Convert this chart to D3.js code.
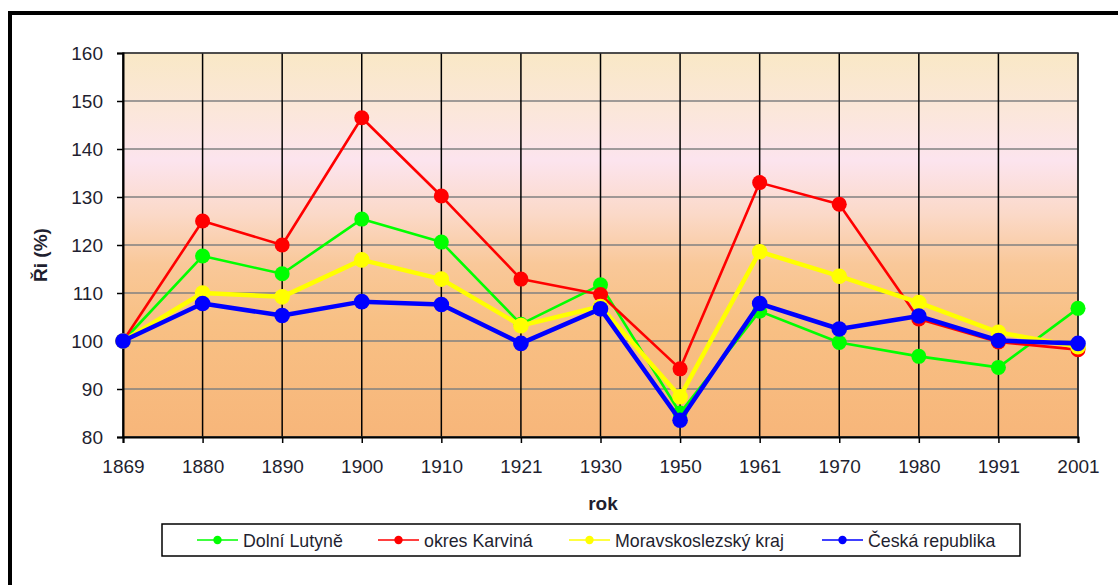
<!DOCTYPE html>
<html>
<head>
<meta charset="utf-8">
<script src="https://cdn.jsdelivr.net/npm/d3@7"></script>
<style>
  html, body { margin: 0; padding: 0; background: #fff; }
  svg { display: block; font-family: "Liberation Sans", Arial, sans-serif; }
</style>
</head>
<body>
<svg id="chart" width="1118" height="585"></svg>
<script>
const years = ["1869","1880","1890","1900","1910","1921","1930","1950","1961","1970","1980","1991","2001"];
const yTicks = [80, 90, 100, 110, 120, 130, 140, 150, 160];
const seriesNames = ["Dolní Lutyně", "okres Karviná", "Moravskoslezský kraj", "Česká republika"];
const dolniLutyne = [100, 117.7, 114, 125.4, 120.6, 103.5, 111.7, 85, 106.2, 99.7, 96.8, 94.5, 106.8];
const okresKarvina = [100, 125, 120, 146.5, 130.2, 112.9, 109.7, 94.2, 133, 128.5, 104.6, 99.8, 98.2];
const moravskoslezsky = [100, 110, 109.2, 116.9, 112.9, 103.2, 107.2, 88.4, 118.6, 113.5, 108, 101.8, 98.8];
const ceskaRepublika = [100, 107.8, 105.3, 108.2, 107.6, 99.5, 106.7, 83.5, 107.8, 102.5, 105.2, 100.1, 99.5];
const seriesColors = ["#00ff00", "#ff0000", "#ffff00", "#0000ff"];

const svg = d3.select("#chart");
const plot = { left: 123, top: 53, right: 1078, bottom: 437 };

// outer frame (cut off at right / bottom)
svg.append("rect").attr("x", 10).attr("y", 13).attr("width", 1200).attr("height", 700)
  .attr("fill", "none").attr("stroke", "#000").attr("stroke-width", 4);

const x = d3.scalePoint().domain(years).range([plot.left, plot.right]).padding(0);
const y = d3.scaleLinear().domain([80, 160]).range([plot.bottom, plot.top]);

// background gradient
const defs = svg.append("defs");
const grad = defs.append("linearGradient").attr("id", "bg").attr("x1", 0).attr("y1", 0).attr("x2", 0).attr("y2", 1);
[[0, "#f9e8c6"], [0.14, "#fbe7d8"], [0.28, "#fce4ee"], [0.42, "#fbd9c8"], [0.55, "#f9c899"], [0.7, "#f8c084"], [1, "#f7b67a"]]
  .forEach(([o, c]) => grad.append("stop").attr("offset", o).attr("stop-color", c));
svg.append("rect").attr("x", plot.left).attr("y", plot.top)
  .attr("width", plot.right - plot.left).attr("height", plot.bottom - plot.top)
  .attr("fill", "url(#bg)");

// horizontal grid
svg.append("g").selectAll("line").data(yTicks).join("line")
  .attr("x1", plot.left).attr("x2", plot.right)
  .attr("y1", d => y(d)).attr("y2", d => y(d))
  .attr("stroke", "#808080").attr("stroke-width", 1.6);

// vertical grid
svg.append("g").selectAll("line").data(years).join("line")
  .attr("x1", d => x(d)).attr("x2", d => x(d))
  .attr("y1", plot.top).attr("y2", plot.bottom)
  .attr("stroke", "#000").attr("stroke-width", 1.5);

// plot border
svg.append("rect").attr("x", plot.left).attr("y", plot.top)
  .attr("width", plot.right - plot.left).attr("height", plot.bottom - plot.top)
  .attr("fill", "none").attr("stroke", "#333").attr("stroke-width", 1.5);

// axes
const yAxis = svg.append("g").attr("transform", `translate(${plot.left},0)`)
  .call(d3.axisLeft(y).tickValues(yTicks).tickSize(6).tickPadding(14).tickFormat(d3.format("d")));
const xAxis = svg.append("g").attr("transform", `translate(0,${plot.bottom})`)
  .call(d3.axisBottom(x).tickSize(6).tickPadding(17));
[yAxis, xAxis].forEach(a => {
  a.select(".domain").attr("stroke", "#000").attr("stroke-width", 2);
  a.selectAll(".tick line").attr("stroke", "#000").attr("stroke-width", 1.5);
  a.selectAll(".tick text").attr("font-size", 19).attr("fill", "#1f1f30")
    .attr("font-family", "'Liberation Sans', Arial, sans-serif");
});
yAxis.selectAll(".tick text").attr("dy", "0.36em");

// axis titles
svg.append("text").attr("transform", "translate(47,255) rotate(-90)")
  .attr("text-anchor", "middle").attr("font-size", 19).attr("font-weight", "bold").attr("fill", "#1f1f30")
  .text("Ři (%)");
svg.append("text").attr("x", 603).attr("y", 510)
  .attr("text-anchor", "middle").attr("font-size", 19).attr("font-weight", "bold").attr("fill", "#1f1f30")
  .text("rok");

// series
const allSeries = [dolniLutyne, okresKarvina, moravskoslezsky, ceskaRepublika];
const widths = [2.6, 2.6, 4.5, 4.5];
const radii = [7.5, 7.5, 7.8, 7.8];
const line = d3.line().x((d, i) => x(years[i])).y(d => y(d));
allSeries.forEach((vals, si) => {
  const g = svg.append("g");
  g.append("path").datum(vals).attr("d", line)
    .attr("fill", "none").attr("stroke", seriesColors[si]).attr("stroke-width", widths[si])
    .attr("stroke-linejoin", "round");
  g.selectAll("circle").data(vals).join("circle")
    .attr("cx", (d, i) => x(years[i])).attr("cy", d => y(d)).attr("r", radii[si])
    .attr("fill", seriesColors[si]);
});

// legend
const legend = svg.append("g");
legend.append("rect").attr("x", 162).attr("y", 524).attr("width", 858).attr("height", 32)
  .attr("fill", "#fff").attr("stroke", "#000").attr("stroke-width", 1.5);
const legendX = [197, 378, 569, 822];
seriesNames.forEach((name, i) => {
  const lx = legendX[i];
  legend.append("line").attr("x1", lx).attr("x2", lx + 41).attr("y1", 540).attr("y2", 540)
    .attr("stroke", seriesColors[i]).attr("stroke-width", 1.5);
  legend.append("circle").attr("cx", lx + 20.5).attr("cy", 540).attr("r", 4.2).attr("fill", seriesColors[i]);
  legend.append("text").attr("x", lx + 46).attr("y", 546.5).attr("font-size", 17.8).attr("fill", "#1f1f30")
    .text(name);
});
</script>
</body>
</html>
